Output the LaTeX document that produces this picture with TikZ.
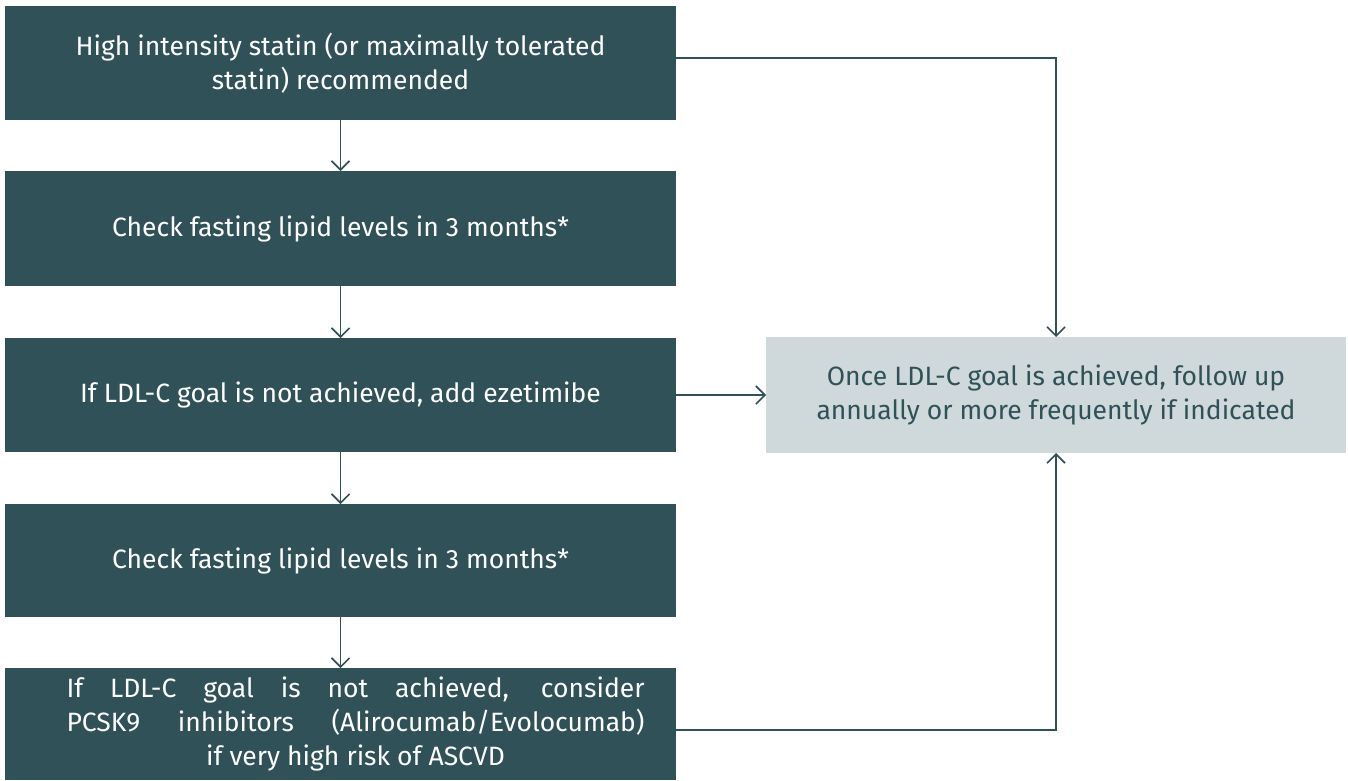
\documentclass[tikz,border=0pt]{standalone}
\usepackage{fontspec}
\setmainfont{Fira Sans}
\usetikzlibrary{arrows.meta}
\definecolor{teal}{HTML}{2F5157}
\definecolor{pale}{HTML}{CFD8DA}
\begin{document}
\begin{tikzpicture}[x=1pt,y=-1pt,
  stepbox/.style={fill=teal,text=white,inner sep=0pt,outer sep=0pt,minimum width=671pt,
    align=center,font=\fontsize{26.5}{34}\selectfont},
  goalbox/.style={fill=pale,text=teal,inner sep=0pt,outer sep=0pt,minimum width=580pt,
    minimum height=116pt,align=center,font=\fontsize{26.5}{34}\selectfont},
  arr/.style={draw=teal,line width=1.8pt,-{Straight Barb[length=9pt,width=18pt,line width=1.6pt]}}]
\useasboundingbox (0,0) rectangle (1348,780);
% treatment steps
\node[stepbox,minimum height=114pt] (b1) at (340.5,63)
  {High intensity statin (or maximally tolerated\\statin) recommended};
\node[stepbox,minimum height=115pt] (b2) at (340.5,228.5)
  {Check fasting lipid levels in 3 months*};
\node[stepbox,minimum height=114pt] (b3) at (340.5,395)
  {If LDL-C goal is not achieved, add ezetimibe};
\node[stepbox,minimum height=113pt] (b4) at (340.5,560.5)
  {Check fasting lipid levels in 3 months*};
\node[stepbox,minimum height=112pt] (b5) at (340.5,724)
  {\hspace*{30pt}\makebox[578pt][s]{If LDL-C goal is not achieved, consider}\\
   \hspace*{30pt}\makebox[578pt][s]{PCSK9 inhibitors (Alirocumab/Evolocumab)}\\
   \hspace*{30pt}if very high risk of ASCVD};
% follow-up
\node[goalbox] (g) at (1056,395)
  {Once LDL-C goal is achieved, follow up\\annually or more frequently if indicated};
% connectors
\draw[arr] (b1.south) -- (b2.north);
\draw[arr] (b2.south) -- (b3.north);
\draw[arr] (b3.south) -- (b4.north);
\draw[arr] (b4.south) -- (b5.north);
\draw[arr] (b3.east) -- (g.west);
\draw[arr] ([yshift=5pt]b1.east) -| (g.north);
\draw[arr] ([yshift=-6pt]b5.east) -| (g.south);
\end{tikzpicture}
\end{document}
